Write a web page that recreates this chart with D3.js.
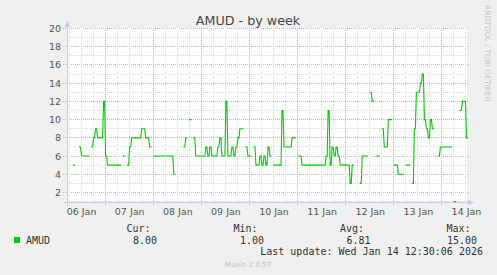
<!DOCTYPE html>
<html>

<head>
  <meta charset='utf-8'>
  <title>AMUD - by week</title>
  <script src="https://cdnjs.cloudflare.com/ajax/libs/d3/7.8.5/d3.min.js"></script>
  <style>
    body { margin: 0; background: #f0f0f0; }
    svg { display: block; }
  </style>
</head>

<body>

  <svg width="497" height="275" id="mySVG"></svg>
  <script>

    // hourly samples starting Jan 6 05:00 UTC, null = no data
    const players = [
      null, null, null, 5, null, null, 7, 6, 6, 6,
      6, null, 7, 8, 9, 8, 8, 8, 12, 6,
      5, 5, 5, 5, 5, 5, 5, null, 6, null,
      5, 7, 8, 8, 8, 8, 8, 9, 9, 8,
      8, 7, null, 6, 6, 6, 6, 6, 6, 6,
      6, 6, 6, 4, null, null, null, null, 7, 8,
      null, 10, null, 8, 6, 6, 6, 6, 6, 7,
      6, 7, 6, 6, 6, 7, 8, 6, 6, 12,
      6, 6, 7, 6, 7, 8, 9, 9, null, 7,
      6, 6, null, 7, 5, 5, 6, 5, 6, 5,
      7, 6, null, 5, 5, 5, 5, 11, 7, 7,
      7, 7, 8, 8, null, 6, 6, 5, 5, 5,
      5, 5, 5, 5, 5, 5, 5, 5, 5, 6,
      11, 5, 7, 6, 7, 6, 5, 5, 5, 5,
      5, 3, 5, null, null, null, 3, 6, 6, 6,
      null, 13, 12, null, 6, 6, null, 9, 7, 7,
      10, 10, null, 5, 5, 4, 4, 4, null, 5,
      5, null, 3, 9, 13, 13, 14, 15, 10, 9,
      8, 10, 9, null, null, 6, 7, 7, 7, 7,
      7, 7, null, 1, null, null, 11, 12, 12, 8
    ];
    const startTime = Date.UTC(2026, 0, 6, 5, 0);
    const endTime = Date.UTC(2026, 0, 14, 12, 30);
    const yTicks = [2, 4, 6, 8, 10, 12, 14, 16, 18, 20];
    const seriesName = 'AMUD';
    const statLabels = ['Cur:', 'Min:', 'Avg:', 'Max:'];
    const statValues = ['8.00', '1.00', '6.81', '15.00'];
    const lastUpdate = 'Last update: Wed Jan 14 12:30:06 2026';

    const HOUR = 3600000;
    const svg = d3.select('#mySVG');
    const sans = 'DejaVu Sans, sans-serif';
    const mono = 'DejaVu Sans Mono, monospace';

    const x = d3.scaleUtc().domain([startTime, endTime]).range([67, 467]);
    const y = d3.scaleLinear().domain([1, 20]).range([201.6, 28.5]);
    const px = v => Math.floor(x(v)) + 0.5;
    const py = v => Math.floor(y(v)) + 0.5;

    svg.append('rect').attr('width', 497).attr('height', 275).attr('fill', '#f0f0f0');
    svg.append('rect')
      .attr('x', 67).attr('y', 28)
      .attr('width', 400).attr('height', py(1) - 28)
      .attr('fill', '#ffffff');

    // grid
    const grid = svg.append('g').attr('stroke-dasharray', '1,1').attr('shape-rendering', 'crispEdges');
    const yLevels = d3.range(1, 21);
    grid.selectAll('.hgrid')
      .data(yLevels)
      .join('line')
      .attr('x1', d => d % 2 === 0 ? 63 : 67)
      .attr('x2', 468)
      .attr('y1', d => py(d))
      .attr('y2', d => py(d))
      .attr('stroke', d => d % 2 === 0 ? '#f0a0a0' : '#d8d8d8');

    const sixHours = d3.utcHour.every(6).range(new Date(startTime), new Date(endTime));
    grid.selectAll('.vgrid')
      .data(sixHours)
      .join('line')
      .attr('x1', d => px(d))
      .attr('x2', d => px(d))
      .attr('y1', 28)
      .attr('y2', d => d.getUTCHours() === 0 ? 206 : py(1))
      .attr('stroke', d => d.getUTCHours() === 0 ? '#f0a0a0' : '#d8d8d8');

    // axes lines with arrows
    const axisColor = '#c8c8f8';
    svg.append('line')
      .attr('x1', 67.5).attr('x2', 67.5).attr('y1', 24).attr('y2', 206)
      .attr('stroke', axisColor);
    svg.append('line')
      .attr('x1', 63).attr('x2', 471).attr('y1', py(1) + 1).attr('y2', py(1) + 1)
      .attr('stroke', axisColor);
    svg.append('path').attr('d', 'M64.5,27L67.5,21L70.5,27Z').attr('fill', axisColor);
    svg.append('path')
      .attr('d', `M468,${py(1) + 1 - 3}L474,${py(1) + 1}L468,${py(1) + 4}Z`)
      .attr('fill', axisColor);

    // tick labels
    svg.append('g')
      .attr('transform', 'translate(61,0)')
      .call(d3.axisLeft(y).tickValues(yTicks).tickSize(0).tickPadding(0))
      .call(g => g.select('.domain').remove())
      .call(g => g.selectAll('text')
        .attr('font-family', sans).attr('font-size', 9.5).attr('fill', '#555'));

    const noonTicks = d3.utcDay.range(d3.utcDay.floor(new Date(startTime)), new Date(endTime + HOUR))
      .map(d => new Date(+d + 12 * HOUR))
      .filter(d => +d >= startTime && +d <= endTime);
    svg.append('g')
      .attr('transform', `translate(0,${py(1) + 7})`)
      .call(d3.axisBottom(x).tickValues(noonTicks).tickFormat(d3.utcFormat('%d %b')).tickSize(0).tickPadding(0))
      .call(g => g.select('.domain').remove())
      .call(g => g.selectAll('text')
        .attr('font-family', sans).attr('font-size', 9.5).attr('fill', '#555'));

    // data line
    const points = [];
    players.forEach((v, i) => {
      const t = startTime + i * HOUR;
      if (v === null) {
        points.push({ t: t + HOUR / 2, v: null });
      } else {
        points.push({ t: t + HOUR / 4, v: v });
        points.push({ t: t + 3 * HOUR / 4, v: v });
      }
    });
    const line = d3.line()
      .defined(d => d.v !== null)
      .x(d => x(d.t))
      .y(d => y(d.v));
    svg.append('path')
      .datum(points)
      .attr('d', line)
      .attr('fill', 'none')
      .attr('stroke', '#00cc00')
      .attr('stroke-width', 1.1)
      .attr('stroke-linecap', 'square');

    // title and watermark
    svg.append('text')
      .attr('x', 248).attr('y', 24.5)
      .attr('text-anchor', 'middle')
      .attr('font-family', sans).attr('font-size', 12.7)
      .attr('fill', '#444')
      .text(seriesName + ' - by week');

    svg.append('text')
      .attr('transform', 'translate(485,5) rotate(90)')
      .attr('font-family', sans).attr('font-size', 7.5)
      .attr('fill', '#c8c8c8')
      .text('RRDTOOL / TOBI OETIKER');

    // legend
    svg.append('rect')
      .attr('x', 14).attr('y', 237).attr('width', 6).attr('height', 6)
      .attr('fill', '#00cc00');
    svg.append('text')
      .attr('x', 26).attr('y', 243.5)
      .attr('font-family', mono).attr('font-size', 10).attr('fill', '#333')
      .text(seriesName);

    const statRight = [157, 264, 370.5, 477];
    svg.selectAll('.statLabel')
      .data(statLabels)
      .join('text')
      .attr('x', (d, i) => statRight[i] - 6.5)
      .attr('y', 232)
      .attr('text-anchor', 'end')
      .attr('font-family', mono).attr('font-size', 10).attr('fill', '#333')
      .text(d => d);
    svg.selectAll('.statValue')
      .data(statValues)
      .join('text')
      .attr('x', (d, i) => statRight[i])
      .attr('y', 243.5)
      .attr('text-anchor', 'end')
      .attr('font-family', mono).attr('font-size', 10).attr('fill', '#333')
      .text(d => d);

    svg.append('text')
      .attr('x', 483).attr('y', 255.3)
      .attr('text-anchor', 'end')
      .attr('font-family', mono).attr('font-size', 10).attr('fill', '#333')
      .text(lastUpdate);

    svg.append('text')
      .attr('x', 248).attr('y', 266.5)
      .attr('text-anchor', 'middle')
      .attr('font-family', sans).attr('font-size', 7.1)
      .attr('fill', '#c0c0c0')
      .text('Munin 2.0.57');

  </script>

</body>

</html>
